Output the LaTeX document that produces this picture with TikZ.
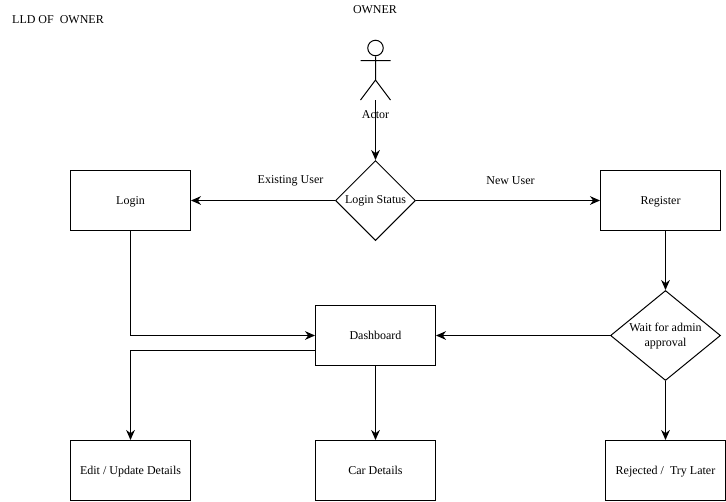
\documentclass[tikz,border=0pt]{standalone}
\usepackage{fontspec}
\setmainfont{Liberation Serif}
\usetikzlibrary{shapes.geometric,arrows.meta}
\tikzset{
  txt/.style={font=\fontsize{9pt}{11.6pt}\selectfont,align=center},
  lab/.style={txt,inner sep=0pt},
  bx/.style={txt,draw,line width=0.75pt,rectangle,minimum width=90pt,minimum height=45pt,inner sep=0pt,text depth=-1pt},
  conn/.style={draw,line width=0.75pt,-{Stealth[length=7.5pt,width=6.5pt]}},
  pl/.style={draw,line width=0.75pt}
}
\begin{document}
\begin{tikzpicture}[x=0.75pt,y=-0.75pt]
\useasboundingbox (0,0) rectangle (726,501);
\fill[white] (0,0) rectangle (726,501);
\node[bx] (login) at (130.5,200.5) {Login};
\node[bx] (reg) at (660.5,200.5) {Register};
\node[bx] (dash) at (375.5,335.5) {Dashboard};
\node[bx] (edit) at (130.5,470.5) {Edit / Update Details};
\node[bx] (car) at (375.5,470.5) {Car Details};
\node[bx] (rej) at (665.5,470.5) {Rejected /\ \ Try Later};
\node[txt,draw,line width=0.75pt,diamond,minimum width=60pt,minimum height=60pt,inner sep=0pt] (status) at (375.5,200.5) {};
\node[lab] (statustext) at (375.5,200.5) {Login Status};
\node[txt,draw,line width=0.75pt,diamond,minimum width=82.5pt,minimum height=67.5pt,inner sep=0pt] (wait) at (665.5,335.5) {};
\node[lab] (waittext) at (665.5,336) {Wait for admin\\approval};
% actor
\node[draw,line width=0.75pt,circle,minimum size=15.5*0.75pt,inner sep=0pt] (head) at (375.5,48) {};
\coordinate (hip) at (375.5,80);
\coordinate (foot) at (375.5,100);
\coordinate (lf) at (360.5,100);
\coordinate (rf) at (390.5,100);
\coordinate (ah) at (360.5,60.5);
\coordinate (bh) at (390.5,60.5);
\draw[pl] (head) -- (hip) (ah) -- (bh) (lf) -- (hip) -- (rf);
\node[lab] (actor) at (375.5,114.5) {Actor};
\node[lab] (owner) at (375,10) {OWNER};
\node[lab] (lld) at (58,20) {LLD OF\ \ OWNER};
\node[lab] (ex) at (290.5,180.5) {Existing User};
\node[lab] (nw) at (510.5,180.5) {New User};
\draw[conn] (foot) -- (status.north);
\draw[conn] (status) -- (login);
\draw[conn] (status) -- (reg);
\draw[conn] (reg.south -| wait.north) -- (wait.north);
\draw[conn] (wait) -- (dash);
\draw[conn] (wait) -- (wait |- rej.north);
\draw[conn] (login) |- (dash.west);
\coordinate (dl) at (315.5,350.5);
\draw[conn] (dl) -| (edit);
\draw[conn] (dash) -- (car);
\end{tikzpicture}
\end{document}
